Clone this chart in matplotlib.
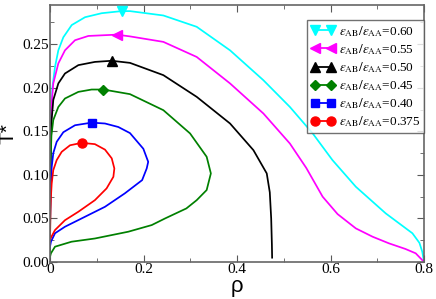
import matplotlib
matplotlib.use("Agg")
import matplotlib.pyplot as plt

plt.rcParams['mathtext.fontset'] = 'stix'
plt.rcParams['font.family'] = ['Liberation Serif', 'DejaVu Serif']

ratios = ['0.60', '0.55', '0.50', '0.45', '0.40', '0.375']
colors = ['cyan', 'magenta', 'black', 'green', 'blue', 'red']
markers = ['v', '<', '^', 'D', 's', 'o']

# coexistence curves
rho_060 = [0.0, 0.0005, 0.002, 0.005, 0.0107, 0.0178, 0.0285, 0.0464, 0.0749, 0.1105, 0.153, 0.171, 0.2424, 0.3137,
           0.385, 0.4563, 0.513, 0.5618, 0.604, 0.654, 0.718, 0.775, 0.79, 0.796, 0.8]
T_060 = [0.0, 0.08, 0.16, 0.2, 0.224, 0.243, 0.258, 0.272, 0.281, 0.2856, 0.288, 0.288, 0.283, 0.27,
         0.243, 0.2087, 0.178, 0.1476, 0.117, 0.0864, 0.0558, 0.033, 0.022, 0.012, 0.0]

rho_055 = [0.0, 0.0005, 0.002, 0.004, 0.007, 0.0178, 0.032, 0.0535, 0.082, 0.1426, 0.171, 0.2424, 0.3137, 0.385,
           0.4563, 0.513, 0.548, 0.583, 0.615, 0.654, 0.69, 0.725, 0.76, 0.782, 0.8]
T_055 = [0.0, 0.08, 0.15, 0.185, 0.205, 0.228, 0.243, 0.2546, 0.2595, 0.261, 0.259, 0.2527, 0.2354, 0.205,
         0.1705, 0.136, 0.108, 0.075, 0.055, 0.0386, 0.029, 0.0214, 0.015, 0.010, 0.0]

rho_050 = [0.0, 0.0005, 0.0015, 0.003, 0.007, 0.0178, 0.032, 0.0606, 0.096, 0.132, 0.171, 0.2424, 0.3137, 0.385,
           0.435, 0.4635, 0.470, 0.473, 0.4745, 0.475]
T_050 = [0.0, 0.06, 0.13, 0.16, 0.186, 0.205, 0.2164, 0.226, 0.2297, 0.231, 0.2286, 0.2145, 0.1896, 0.159,
         0.1284, 0.1017, 0.08, 0.05, 0.02, 0.005]

rho_045 = [0.0, 0.0003, 0.001, 0.003, 0.007, 0.0178, 0.032, 0.0606, 0.089, 0.114, 0.171, 0.2424, 0.2995, 0.335,
           0.344, 0.335, 0.3137, 0.2916, 0.246, 0.2175, 0.1675, 0.096, 0.046, 0.0107, 0.002, 0.0]
T_045 = [0.006, 0.05, 0.11, 0.145, 0.163, 0.178, 0.1877, 0.1953, 0.198, 0.198, 0.1927, 0.1743, 0.1476, 0.1208,
         0.1017, 0.0826, 0.071, 0.0615, 0.050, 0.0424, 0.0348, 0.027, 0.0233, 0.0176, 0.01, 0.006]

rho_040 = [0.0, 0.0003, 0.001, 0.0036, 0.007, 0.0143, 0.0285, 0.0535, 0.089, 0.1176, 0.146, 0.171, 0.1996, 0.210,
           0.2068, 0.197, 0.160, 0.1176, 0.075, 0.032, 0.0107, 0.002, 0.0]
T_040 = [0.0176, 0.05, 0.08, 0.109, 0.125, 0.138, 0.149, 0.157, 0.160, 0.159, 0.155, 0.148, 0.13, 0.115,
         0.1074, 0.094, 0.0788, 0.0634, 0.052, 0.0405, 0.033, 0.0233, 0.0176]

rho_0375 = [0.0, 0.001, 0.002, 0.0036, 0.007, 0.0143, 0.025, 0.0428, 0.0678, 0.096, 0.1176, 0.132, 0.1376, 0.1355,
            0.121, 0.096, 0.0606, 0.032, 0.0107, 0.002, 0.0]
T_0375 = [0.025, 0.06, 0.075, 0.090, 0.1055, 0.117, 0.1265, 0.134, 0.1368, 0.1353, 0.129, 0.119, 0.1074, 0.0978,
          0.0845, 0.071, 0.0577, 0.048, 0.0367, 0.028, 0.025]

# critical points
crit_rho = [0.153, 0.1426, 0.132, 0.114, 0.089, 0.0678]
crit_T = [0.288, 0.261, 0.231, 0.198, 0.160, 0.1368]

curves = [(rho_060, T_060), (rho_055, T_055), (rho_050, T_050),
          (rho_045, T_045), (rho_040, T_040), (rho_0375, T_0375)]
msizes = [6.5, 6.5, 6.5, 5, 5.5, 6.5]

fig = plt.figure(figsize=(4.36, 2.99), dpi=100)
ax = fig.add_axes([0.1147, 0.1237, 0.858, 0.8595])

for i in range(len(ratios)):
  rho, T = curves[i]
  ax.plot(rho, T, color=colors[i], lw=1.25, solid_joinstyle='round', zorder=2)
  ax.plot([crit_rho[i]], [crit_T[i]], marker=markers[i], color=colors[i], ms=msizes[i], ls='none', zorder=3)
  # legend proxy: line with a marker at both ends
  ax.plot([], [], color=colors[i], marker=markers[i], ms=msizes[i], lw=1.3,
          label=r'$\varepsilon_{\rm AB}/\varepsilon_{\rm AA}$=' + ratios[i])

ax.set_xlim(0, 0.8)
ax.set_ylim(0, 0.295)
ax.set_xticks([0, 0.2, 0.4, 0.6, 0.8])
ax.set_xticklabels(['0', '0.2', '0.4', '0.6', '0.8'])
ax.set_xticks([0.1, 0.3, 0.5, 0.7], minor=True)
ax.set_yticks([0, 0.05, 0.10, 0.15, 0.20, 0.25])
ax.set_yticklabels(['0.00', '0.05', '0.10', '0.15', '0.20', '0.25'])
ax.set_yticks([0.025, 0.075, 0.125, 0.175, 0.225, 0.275], minor=True)
ax.tick_params(which='both', direction='in', top=True, right=True, labelsize=11, colors='0.35', labelcolor='black', pad=1)
ax.tick_params(which='major', length=5)
ax.tick_params(which='minor', length=3)
for s in ax.spines.values():
  s.set_color('0.4')
  s.set_linewidth(1.2)

ax.set_xlabel('ρ', fontsize=16, family='Liberation Sans', labelpad=0)
ax.set_ylabel('T*', fontsize=15, family='Liberation Sans', labelpad=3)

leg = ax.legend(loc='upper right', bbox_to_anchor=(1.0, 0.9416), borderaxespad=0,
                numpoints=2, fontsize=9.5, frameon=True, fancybox=False,
                handlelength=1.8, handletextpad=0.3, labelspacing=0.25, borderpad=0.3)
leg.get_frame().set_edgecolor('0.3')
leg.get_frame().set_linewidth(1.0)

fig.savefig('out.png', dpi=100)
